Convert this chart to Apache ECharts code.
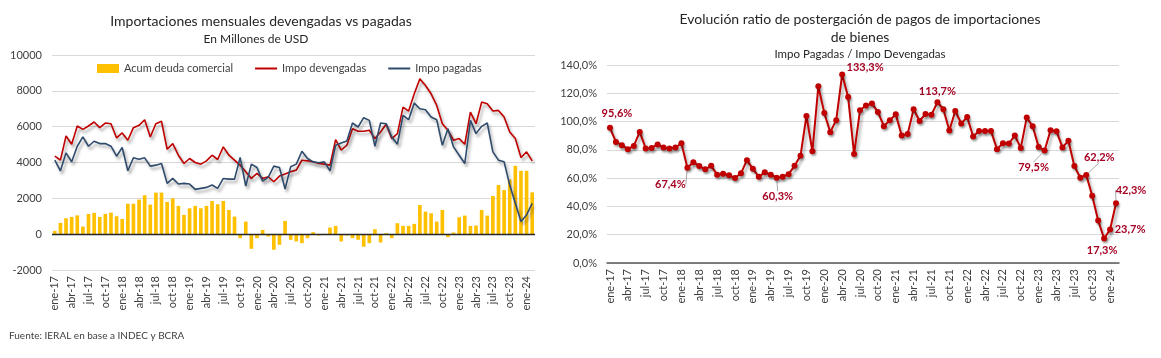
<!DOCTYPE html>
<html><head><meta charset="utf-8">
<script src="https://cdn.jsdelivr.net/npm/echarts@6/dist/echarts.min.js"></script>
<style>html,body{margin:0;padding:0;background:#fff}#c{width:1161px;height:358px}</style>
</head><body><div id="c"></div>
<script>
const categories = ['ene-17','feb-17','mar-17','abr-17','may-17','jun-17','jul-17','ago-17','sep-17','oct-17','nov-17','dic-17',
'ene-18','feb-18','mar-18','abr-18','may-18','jun-18','jul-18','ago-18','sep-18','oct-18','nov-18','dic-18',
'ene-19','feb-19','mar-19','abr-19','may-19','jun-19','jul-19','ago-19','sep-19','oct-19','nov-19','dic-19',
'ene-20','feb-20','mar-20','abr-20','may-20','jun-20','jul-20','ago-20','sep-20','oct-20','nov-20','dic-20',
'ene-21','feb-21','mar-21','abr-21','may-21','jun-21','jul-21','ago-21','sep-21','oct-21','nov-21','dic-21',
'ene-22','feb-22','mar-22','abr-22','may-22','jun-22','jul-22','ago-22','sep-22','oct-22','nov-22','dic-22',
'ene-23','feb-23','mar-23','abr-23','may-23','jun-23','jul-23','ago-23','sep-23','oct-23','nov-23','dic-23',
'ene-24','feb-24'];

const deudaComercial = [185,630,890,960,1050,427,1130,1190,960,1130,1200,1000,
850,1700,1700,1930,2170,1650,2320,2320,1800,2000,1580,1075,
1445,1580,1445,1580,1850,1670,1850,1350,980,-220,700,-815,
-222,240,-130,-870,-593,740,-315,-407,-500,-222,110,-74,
20,370,460,-407,-74,-222,-315,-700,-500,278,-463,56,
-222,611,463,463,574,1630,1259,1167,704,1352,-167,93,
944,1037,463,482,1352,1037,2130,2741,2463,3056,3815,3537,
3537,2334];

const impoDevengadas = [4352,4130,5482,5019,6037,5852,6037,6260,5945,6204,6167,5371,
5649,5241,5945,6074,6389,5426,6167,6297,4741,5056,4408,3945,
4223,4000,3908,4093,4408,4167,4871,4408,4130,3852,3482,3111,
3389,3111,3204,2926,3241,3352,3482,3574,4130,4093,4037,3945,
3908,3852,5278,4686,4963,5889,5741,5741,5797,5334,5704,6130,
5334,5612,7093,6871,7834,8667,8297,7834,7186,6167,5797,5241,
5334,5019,6815,6167,7371,7278,6871,6908,6537,5704,5334,4278,
4593,4093];

const impoPagadas = [4130,3537,4537,4037,4908,5426,4908,5186,5056,5056,4908,4352,
4834,3537,4260,4186,4260,3797,3852,3945,2834,3111,2797,2834,
2797,2500,2556,2611,2741,2556,3111,3074,3074,4278,2685,3908,
3722,2963,3167,3797,3722,2519,3760,3908,4630,4223,4037,3982,
4037,3537,4963,5093,5204,6204,5982,6500,6352,4908,6204,6167,
5426,5019,6630,6389,7315,7000,6945,6537,6389,4963,5889,4871,
4408,3945,6352,5612,6019,6204,4593,4130,4037,2741,1722,704,
1074,1722];

const ratio = [95.6,85.6,83.3,80.5,82.8,92.7,81.0,81.4,83.8,81.7,81.0,81.7,
84.7,67.4,71.3,68.5,66.2,68.7,62.4,63.1,62.0,60.1,63.4,72.7,
66.6,61.0,64.1,62.4,60.3,61.0,62.8,68.7,75.8,104.0,79.0,124.9,
106.0,92.5,101.0,133.3,117.3,77.0,108.0,111.4,112.7,106.8,96.7,100.9,
105.1,90.1,91.3,108.7,100.4,105.4,104.9,113.7,108.7,93.7,107.5,98.6,
103.2,89.4,93.4,93.4,93.4,80.5,84.7,84.5,90.1,81.4,102.8,96.7,
82.1,79.5,93.9,93.2,81.7,86.4,68.5,60.3,62.2,47.6,30.0,17.3,
23.7,42.3];

const leftTicks = [-2000,0,2000,4000,6000,8000,10000];
const rightTicks = [0,20,40,60,80,100,120,140];
const labelIdx = [0,13,28,39,55,73,80,83,84,85];
const labelLeader = [false,true,true,false,false,true,true,false,false,true];
const labelOffset = [[7,-14],[-17,17],[1,19],[23,-7],[0,-11],[-11,17],[13,-18],[-2,12],[20,0],[15,-13]];

const FONT = 'Lato';
const fmtPct = v => v.toFixed(1).replace('.', ',') + '%';

const ratioData = ratio.map((v, i) => {
  const k = labelIdx.indexOf(i);
  if (k < 0) return v;
  return {value: v, label: {show: true}, labelLine: {show: labelLeader[k]}};
});

const chart = echarts.init(document.getElementById('c'), null, {renderer: 'canvas'});
const shadow = {shadowColor: 'rgba(0,0,0,0.35)', shadowBlur: 3, shadowOffsetX: 2, shadowOffsetY: 3};

chart.setOption({
  animation: false,
  textStyle: {fontFamily: FONT},
  title: [
    {text: 'Importaciones mensuales devengadas vs pagadas', left: 256, top: 9, textAlign: 'center',
     textStyle: {fontFamily: FONT, fontSize: 14, fontWeight: 'normal', color: '#262626'}},
    {text: 'En Millones de USD', left: 251, top: 28, textAlign: 'center',
     textStyle: {fontFamily: FONT, fontSize: 12, fontWeight: 'normal', color: '#262626'}},
    {text: 'Evolución ratio de postergación de pagos de importaciones', left: 855, top: 7, textAlign: 'center',
     textStyle: {fontFamily: FONT, fontSize: 14, fontWeight: 'normal', color: '#262626'}},
    {text: 'de bienes', left: 855, top: 25, textAlign: 'center',
     textStyle: {fontFamily: FONT, fontSize: 14, fontWeight: 'normal', color: '#262626'}},
    {text: 'Impo Pagadas / Impo Devengadas', left: 855, top: 43, textAlign: 'center',
     textStyle: {fontFamily: FONT, fontSize: 11.5, fontWeight: 'normal', color: '#262626'}},
    {text: 'Fuente: IERAL en base a INDEC y BCRA', left: 4, top: 326,
     textStyle: {fontFamily: FONT, fontSize: 10, fontWeight: 'normal', color: '#404040'}}
  ],
  legend: {
    left: 92, top: 58, itemGap: 22, itemWidth: 22, itemHeight: 9,
    textStyle: {fontFamily: FONT, fontSize: 11, color: '#404040'},
    data: [
      {name: 'Acum deuda comercial', icon: 'rect'},
      {name: 'Impo devengadas', icon: 'path://M0,4 L22,4 L22,6 L0,6 Z', itemStyle: {color: '#C00000'}},
      {name: 'Impo pagadas', icon: 'path://M0,4 L22,4 L22,6 L0,6 Z', itemStyle: {color: '#2F4B6C'}}
    ]
  },
  grid: [
    {left: 52, right: 626, top: 55, bottom: 88},
    {left: 607, right: 42, top: 65, bottom: 95}
  ],
  xAxis: [
    {type: 'category', gridIndex: 0, data: categories, boundaryGap: true,
     axisLine: {show: false}, axisTick: {show: false},
     axisLabel: {rotate: 90, interval: 2, fontSize: 11, color: '#404040', margin: 6, fontFamily: FONT}},
    {type: 'category', gridIndex: 1, data: categories, boundaryGap: true,
     axisLine: {show: true, lineStyle: {color: '#595959', width: 1.5}}, axisTick: {show: false},
     axisLabel: {rotate: 90, interval: 2, fontSize: 11, color: '#404040', margin: 6, fontFamily: FONT}}
  ],
  yAxis: [
    {type: 'value', gridIndex: 0, min: leftTicks[0], max: leftTicks[leftTicks.length - 1], interval: 2000,
     axisLine: {show: false}, axisTick: {show: false},
     axisLabel: {fontSize: 11, color: '#404040', margin: 10, fontFamily: FONT, formatter: v => String(v)},
     splitLine: {lineStyle: {color: '#D9D9D9', width: 1}}},
    {type: 'value', gridIndex: 1, min: rightTicks[0], max: rightTicks[rightTicks.length - 1], interval: 20,
     axisLine: {show: false}, axisTick: {show: false},
     axisLabel: {fontSize: 11, color: '#404040', margin: 10, fontFamily: FONT, formatter: v => fmtPct(v)},
     splitLine: {lineStyle: {color: '#D9D9D9', width: 1}}}
  ],
  series: [
    {name: 'Acum deuda comercial', type: 'bar', xAxisIndex: 0, yAxisIndex: 0, data: deudaComercial,
     barWidth: '65%', itemStyle: {color: '#FFC000'},
     markLine: {silent: true, symbol: 'none', label: {show: false},
       lineStyle: {color: '#262626', width: 1.3, type: 'solid'}, data: [{yAxis: 0}]}},
    {name: 'Impo devengadas', type: 'line', xAxisIndex: 0, yAxisIndex: 0, data: impoDevengadas,
     symbol: 'none', lineStyle: Object.assign({color: '#C00000', width: 1.6}, shadow), itemStyle: {color: '#C00000'}, z: 3},
    {name: 'Impo pagadas', type: 'line', xAxisIndex: 0, yAxisIndex: 0, data: impoPagadas,
     symbol: 'none', lineStyle: Object.assign({color: '#2F4B6C', width: 1.6}, shadow), itemStyle: {color: '#2F4B6C'}, z: 4},
    {name: 'Ratio', type: 'line', xAxisIndex: 1, yAxisIndex: 1, data: ratioData,
     symbol: 'circle', symbolSize: 6, showAllSymbol: true,
     lineStyle: Object.assign({color: '#C00000', width: 2}, shadow),
     itemStyle: Object.assign({color: '#C00000'}, {shadowColor: 'rgba(0,0,0,0.3)', shadowBlur: 2, shadowOffsetX: 1, shadowOffsetY: 2}),
     label: {show: false, formatter: p => fmtPct(p.value), fontFamily: FONT, fontSize: 11, fontWeight: 'bold', color: '#A50021', position: 'inside'},
     labelLine: {show: true, lineStyle: {color: '#A6A6A6', width: 1}},
     labelLayout: function (p) {
       const k = labelIdx.indexOf(p.dataIndex);
       if (k < 0) return {};
       const o = labelOffset[k];
       return {x: p.rect.x + p.rect.width / 2 + o[0], y: p.rect.y + p.rect.height / 2 + o[1], align: 'center', verticalAlign: 'middle', hideOverlap: false};
     }}
  ]
});
</script></body></html>
